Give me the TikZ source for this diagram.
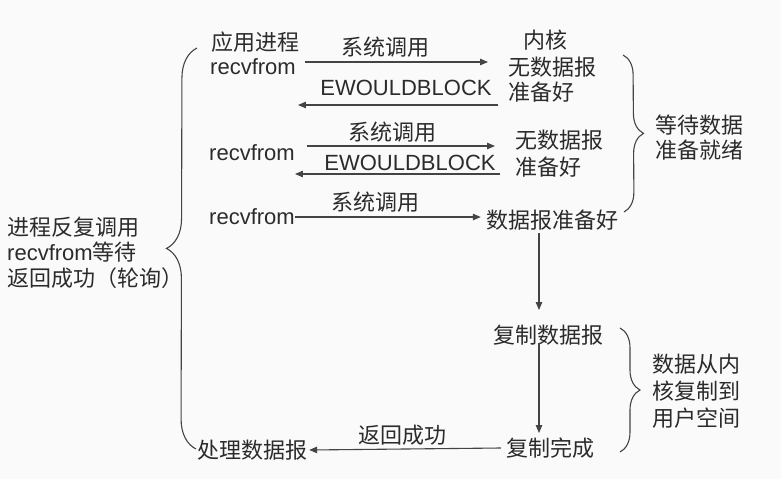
\documentclass[tikz,border=0pt]{standalone}
\usepackage{fontspec}
\setmainfont{Liberation Sans}
\newfontfamily\cjk{Noto Sans CJK SC}
\usetikzlibrary{arrows.meta,decorations.pathreplacing}
\definecolor{ink}{HTML}{2B2B2B}
\definecolor{lin}{HTML}{444444}
\definecolor{bg}{HTML}{FAFAFA}
\begin{document}
\begin{tikzpicture}[x=1pt,y=-1pt,
  txt/.style={inner sep=0pt, font=\fontsize{22}{26}\selectfont, text=ink},
  ctxt/.style={inner sep=0pt, font=\fontsize{22}{26}\selectfont\cjk, text=ink},
  arr/.style={draw=lin, line width=1.1pt, -{Triangle[length=8pt,width=6.5pt]}},
  brc/.style={draw=lin, line width=1.1pt, decorate, decoration={brace, amplitude=#1}},
]
\fill[bg] (0,0) rectangle (781,479);
\useasboundingbox (0,0) rectangle (781,479);

% process side
\node[ctxt] (app) at (255,42) {应用进程};
\node[txt] (r1) at (253,67) {recvfrom};
\node[txt] (r2) at (252,153) {recvfrom};
\node[txt] (r3) at (252,217) {recvfrom};
\node[ctxt] (proc) at (252,450) {处理数据报};

% kernel side
\node[ctxt] (kern) at (545,40) {内核};
\node[ctxt, anchor=west] (n1a) at (508,67) {无数据报};
\node[ctxt, anchor=west] (n1b) at (508,92) {准备好};
\node[ctxt, anchor=west] (n2a) at (515,140) {无数据报};
\node[ctxt, anchor=west] (n2b) at (515,167) {准备好};
\node[ctxt] (ready) at (552,220) {数据报准备好};
\node[ctxt] (copy) at (548,335) {复制数据报};
\node[ctxt] (done) at (550,448) {复制完成};

% brace texts
\node[ctxt, anchor=west] (w1) at (655,125) {等待数据};
\node[ctxt, anchor=west] (w2) at (655,150) {准备就绪};
\node[ctxt, anchor=west] (c1) at (652,364) {数据从内};
\node[ctxt, anchor=west] (c2) at (652,391) {核复制到};
\node[ctxt, anchor=west] (c3) at (652,418) {用户空间};
\node[ctxt, anchor=west] (l1) at (7,227) {进程反复调用};
\node[txt, anchor=west] (l2) at (7,252) {recvfrom{\cjk 等待}};
\node[ctxt, anchor=west] (l3) at (7,278) {返回成功（轮询）};

% arrow labels
\node[ctxt] (s1) at (385,47) {系统调用};
\node[txt] (e1) at (406,88) {EWOULDBLOCK};
\node[ctxt] (s2) at (392,132) {系统调用};
\node[txt] (e2) at (410,163) {EWOULDBLOCK};
\node[ctxt] (s3) at (375,202) {系统调用};
\node[ctxt] (ret) at (402,435) {返回成功};

% connectors
\draw[arr] ([xshift=9pt,yshift=5pt]r1.east) -- ([xshift=-20pt,yshift=5pt]n1a.west);
\draw[arr] ([xshift=-10pt,yshift=-13pt]n1b.west) -- ([xshift=2pt,yshift=-38pt]r1.east);
\draw[arr] ([xshift=12pt,yshift=7pt]r2.east) -- ([xshift=-20pt,yshift=-6pt]n2a.west);
\draw[arr] ([xshift=-15pt,yshift=-7pt]n2b.west) -- ([yshift=-21pt]r2.east);
\draw[arr] (r3.east) -- ([xshift=-5pt,yshift=3pt]ready.west);
\draw[arr] ([xshift=-13pt,yshift=-13pt]ready.center) -- ([xshift=-9pt,yshift=25pt]copy.center);
\draw[arr] ([xshift=-9pt,yshift=-8pt]copy.center) -- ([xshift=-11pt,yshift=15pt]done.center);
\draw[arr] ([xshift=-5pt]done.west) -- ([xshift=2pt]proc.east);

% braces
\coordinate (b1t) at (623,55);
\coordinate (b1b) at (624,212);
\coordinate (b2t) at (620,328);
\coordinate (b2b) at (620,452);
\coordinate (b3t) at (197,48);
\coordinate (b3b) at (196,449);
\draw[brc=20pt] (b1t) -- (b1b);
\draw[brc=20pt] (b2t) -- (b2b);
\draw[brc=30pt] (b3b) -- (b3t);
\end{tikzpicture}
\end{document}
